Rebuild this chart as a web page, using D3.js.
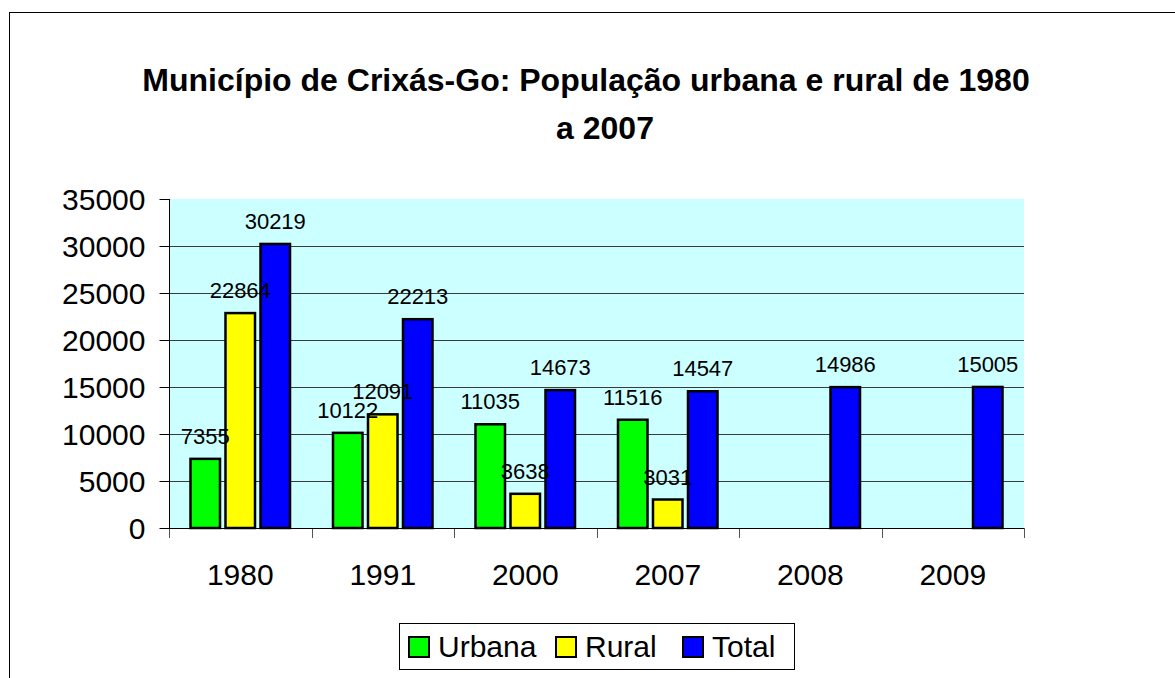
<!DOCTYPE html>
<html>
<head>
<meta charset="utf-8">
<script src="https://cdn.jsdelivr.net/npm/d3@7"></script>
<style>
  body { margin: 0; background: #ffffff; }
  svg { display: block; font-family: "Liberation Sans", Arial, sans-serif; }
</style>
</head>
<body>
<svg id="chart" width="1175" height="678"></svg>
<script>
// chart data
var years = ["1980", "1991", "2000", "2007", "2008", "2009"];
var urbana = [7355, 10122, 11035, 11516, null, null];
var rural = [22864, 12091, 3638, 3031, null, null];
var total = [30219, 22213, 14673, 14547, 14986, 15005];
var seriesNames = ["Urbana", "Rural", "Total"];
var seriesColors = ["#00ff00", "#ffff00", "#0000ff"];
var yTicks = [0, 5000, 10000, 15000, 20000, 25000, 30000, 35000];
var titleLines = ["Município de Crixás-Go: População urbana e rural de 1980", "a 2007"];

var svg = d3.select("#chart");

// plot area
var plot = { left: 169, right: 1024, top: 199, bottom: 528 };

// outer frame (clipped at right / bottom like the original)
svg.append("rect")
  .attr("x", 9.5).attr("y", 12.5)
  .attr("width", 1300).attr("height", 800)
  .attr("fill", "#ffffff")
  .attr("stroke", "#000000")
  .attr("stroke-width", 1);

// title - second line sits a little right of the first, as in the original
svg.append("text")
  .attr("text-anchor", "middle")
  .attr("font-weight", "bold")
  .attr("font-size", 32)
  .selectAll("tspan")
  .data(titleLines)
  .join("tspan")
  .attr("x", function (d, i) { return i === 0 ? 586 : 605; })
  .attr("y", function (d, i) { return 91 + i * 48; })
  .text(function (d) { return d; });

// scales
var x0 = d3.scaleBand().domain(years).range([plot.left, plot.right]);
var x1 = d3.scaleBand().domain(seriesNames).range([0, x0.bandwidth()])
  .paddingInner(0.157).paddingOuter(0.614);
var y = d3.scaleLinear().domain([0, 35000]).range([plot.bottom, plot.top]);

// background
svg.append("rect")
  .attr("x", plot.left).attr("y", plot.top)
  .attr("width", plot.right - plot.left).attr("height", plot.bottom - plot.top)
  .attr("fill", "#ccffff");

// gridlines
svg.append("g")
  .selectAll("line")
  .data(yTicks.filter(function (d) { return d > 0 && d < 35000; }))
  .join("line")
  .attr("x1", plot.left).attr("x2", plot.right)
  .attr("y1", function (d) { return Math.round(y(d)) + 0.5; })
  .attr("y2", function (d) { return Math.round(y(d)) + 0.5; })
  .attr("stroke", "#3a3a3a")
  .attr("stroke-width", 1);

// y axis
var yAxis = d3.axisLeft(y).tickValues(yTicks).tickSize(10).tickPadding(14)
  .tickFormat(function (d) { return d; });
var gy = svg.append("g")
  .attr("transform", "translate(" + (plot.left + 0.5) + ",0)")
  .call(yAxis);
gy.select(".domain").attr("stroke", "#000").attr("d", "M0," + plot.top + "V" + plot.bottom);
gy.selectAll(".tick line").attr("stroke", "#000");
gy.selectAll(".tick text")
  .attr("font-size", 30)
  .attr("font-family", "Liberation Sans, Arial, sans-serif")
  .attr("fill", "#000")
  .attr("dy", "0.35em");

// x axis line and ticks at category boundaries
var bounds = years.map(function (d) { return x0(d); }).concat([plot.right]);
svg.append("g")
  .selectAll("line")
  .data(bounds)
  .join("line")
  .attr("x1", function (d) { return Math.round(d) + 0.5; })
  .attr("x2", function (d) { return Math.round(d) + 0.5; })
  .attr("y1", plot.bottom).attr("y2", plot.bottom + 10)
  .attr("stroke", "#555555");
svg.append("line")
  .attr("x1", plot.left).attr("x2", plot.right)
  .attr("y1", plot.bottom + 0.5).attr("y2", plot.bottom + 0.5)
  .attr("stroke", "#000");

// x labels
svg.append("g")
  .selectAll("text")
  .data(years)
  .join("text")
  .attr("x", function (d) { return x0(d) + x0.bandwidth() / 2; })
  .attr("y", 585)
  .attr("text-anchor", "middle")
  .attr("font-size", 30)
  .text(function (d) { return d; });

// bars
var seriesData = [urbana, rural, total];
var bars = [];
seriesData.forEach(function (vals, s) {
  vals.forEach(function (v, i) {
    if (v !== null) bars.push({ year: years[i], series: seriesNames[s], color: seriesColors[s], value: v });
  });
});

svg.append("g")
  .selectAll("rect")
  .data(bars)
  .join("rect")
  .attr("x", function (d) { return x0(d.year) + x1(d.series); })
  .attr("y", function (d) { return y(d.value); })
  .attr("width", x1.bandwidth())
  .attr("height", function (d) { return y(0) - y(d.value); })
  .attr("fill", function (d) { return d.color; })
  .attr("stroke", "#000")
  .attr("stroke-width", 2.5);

// value labels
svg.append("g")
  .selectAll("text")
  .data(bars)
  .join("text")
  .attr("x", function (d) { return x0(d.year) + x1(d.series) + x1.bandwidth() / 2; })
  .attr("y", function (d) { return y(d.value) - 15; })
  .attr("text-anchor", "middle")
  .attr("font-size", 22)
  .text(function (d) { return d.value; });

// legend
var legend = svg.append("g");
legend.append("rect")
  .attr("x", 399.5).attr("y", 623.5)
  .attr("width", 395).attr("height", 46)
  .attr("fill", "#ffffff")
  .attr("stroke", "#000");
var legendX = [409, 556, 683];
var items = legend.selectAll("g.item")
  .data(seriesNames)
  .join("g")
  .attr("class", "item")
  .attr("transform", function (d, i) { return "translate(" + legendX[i] + ",637)"; });
items.append("rect")
  .attr("width", 20).attr("height", 20)
  .attr("fill", function (d, i) { return seriesColors[i]; })
  .attr("stroke", "#000")
  .attr("stroke-width", 2);
items.append("text")
  .attr("x", 29).attr("y", 20)
  .attr("font-size", 30)
  .text(function (d) { return d; });
</script>
</body>
</html>
